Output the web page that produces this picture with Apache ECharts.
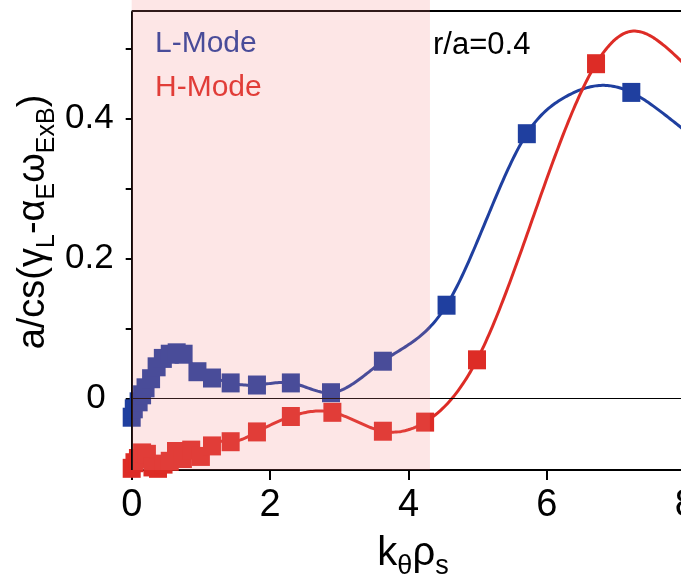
<!DOCTYPE html>
<html>
<head>
<meta charset="utf-8">
<script src="https://cdn.jsdelivr.net/npm/echarts@6/dist/echarts.min.js"></script>
<style>
  html, body { margin: 0; padding: 0; background: #ffffff; }
  #chart { width: 681px; height: 581px; }
</style>
</head>
<body>
<div id="chart"></div>
<script>
// Linear growth rate minus ExB shearing rate versus k_theta rho_s at r/a = 0.4

// L-Mode growth rates (marked points)
const kL = [0, 0.03, 0.1, 0.15, 0.2, 0.28, 0.36, 0.45, 0.55, 0.65, 0.75, 0.95, 1.16, 1.43, 1.81, 2.30, 2.88, 3.63, 4.55, 5.71, 7.22];
const gL = [-0.027, -0.015, -0.005, 0.005, 0.015, 0.028, 0.045, 0.057, 0.063, 0.065, 0.063, 0.038, 0.029, 0.022, 0.019, 0.022, 0.008, 0.053, 0.133, 0.378, 0.437];
// L-Mode fitted curve between the marked points
const kLfit = [6.24, 6.85, 7.68, 8.1];
const gLfit = [0.429, 0.447, 0.407, 0.374];

// H-Mode growth rates (marked points)
const kH = [0, 0.04, 0.09, 0.15, 0.22, 0.3, 0.38, 0.46, 0.55, 0.64, 0.74, 0.86, 1.0, 1.16, 1.43, 1.81, 2.30, 2.90, 3.63, 4.24, 4.99, 6.71];
const gH = [-0.100, -0.092, -0.086, -0.078, -0.080, -0.098, -0.100, -0.094, -0.090, -0.076, -0.086, -0.074, -0.083, -0.068, -0.062, -0.048, -0.026, -0.020, -0.047, -0.034, 0.055, 0.478];
// H-Mode fitted curve between the marked points
const kHfit = [7.2, 7.68, 8.1];
const gHfit = [0.524, 0.505, 0.466];

// shaded low-k band
const shadedK = [0, 4.31];

// axis ticks and labels
const xTicks = [0, 2, 4, 6, 8];
const yTicks = [0, 0.1, 0.2, 0.3, 0.4, 0.5];
const yLabels = [0, 0.2, 0.4];

// axis ranges
const X_MIN = 0, X_MAX = 8.4;
const Y_MIN = -0.1024, Y_MAX = 0.569, Y_FRAME = 0.553;

const BLUE = '#1f3f9f';
const RED = '#dd2c26';
const FONT = '"Liberation Sans", Arial, Helvetica, sans-serif';

// merge marked points and curve points, ordered by k
function knots(ks, gs, kf, gf) {
  return ks.map((k, i) => [k, gs[i]])
    .concat(kf.map((k, i) => [k, gf[i]]))
    .sort((p, q) => p[0] - q[0]);
}

// natural cubic spline through the knots, sampled for drawing
function splinePoints(pts) {
  const xs = pts.map(p => p[0]), ys = pts.map(p => p[1]);
  const n = xs.length;
  const h = [];
  for (let i = 0; i < n - 1; i++) h.push(xs[i + 1] - xs[i]);
  const a = [], b = [], c = [], d = [];
  for (let i = 1; i < n - 1; i++) {
    a.push(h[i - 1]);
    b.push(2 * (h[i - 1] + h[i]));
    c.push(h[i]);
    d.push(6 * ((ys[i + 1] - ys[i]) / h[i] - (ys[i] - ys[i - 1]) / h[i - 1]));
  }
  const k = b.length;
  for (let i = 1; i < k; i++) {
    const w = a[i] / b[i - 1];
    b[i] -= w * c[i - 1];
    d[i] -= w * d[i - 1];
  }
  const m = new Array(n).fill(0);
  for (let i = k - 1; i >= 0; i--) {
    m[i + 1] = (d[i] - (i < k - 1 ? c[i] * m[i + 2] : 0)) / b[i];
  }
  const out = [];
  for (let i = 0; i < n - 1; i++) {
    const steps = Math.max(4, Math.ceil(h[i] * 40));
    for (let s = 0; s < steps; s++) {
      const t = (s / steps) * h[i];
      const A = (h[i] - t) / h[i], B = t / h[i];
      const y = A * ys[i] + B * ys[i + 1] +
        ((A * A * A - A) * m[i] + (B * B * B - B) * m[i + 1]) * h[i] * h[i] / 6;
      out.push([xs[i] + t, y]);
    }
  }
  out.push([xs[n - 1], ys[n - 1]]);
  return out;
}

function curveSeries(name, pts, color, z) {
  const curve = splinePoints(pts);
  return {
    type: 'custom',
    name: name + ' fit',
    z: z,
    silent: true,
    clip: false,
    data: pts,
    renderItem(params, api) {
      if (params.dataIndex !== 0) return null;
      return {
        type: 'polyline',
        shape: { points: curve.map(p => api.coord(p)) },
        style: { stroke: color, lineWidth: 3, fill: 'none', lineJoin: 'round', lineCap: 'round' }
      };
    }
  };
}

function markerSeries(name, ks, gs, color, z, extra) {
  return Object.assign({
    type: 'scatter',
    name: name,
    z: z,
    silent: true,
    clip: false,
    symbol: 'rect',
    symbolSize: [18, 19],
    itemStyle: { color: color, opacity: 1 },
    data: ks.map((kk, i) => [kk, gs[i]])
  }, extra || {});
}

const frameLines = {
  silent: true,
  symbol: 'none',
  label: { show: false },
  emphasis: { disabled: true },
  data: [
    [{ coord: [X_MIN, Y_FRAME], lineStyle: { color: '#000', width: 2, type: 'solid' } },
     { coord: [X_MAX, Y_FRAME] }],
    [{ coord: [X_MIN, Y_MIN], lineStyle: { color: '#000', width: 2, type: 'solid' } },
     { coord: [X_MIN, Y_FRAME] }],
    [{ coord: [X_MIN, 0], lineStyle: { color: '#000', width: 1.2, type: 'solid' } },
     { coord: [X_MAX, 0] }]
  ]
};

const chart = echarts.init(document.getElementById('chart'), null, { renderer: 'canvas' });

chart.setOption({
  animation: false,
  backgroundColor: '#ffffff',
  textStyle: { fontFamily: FONT },
  grid: { left: 131.7, right: 681 - (131.7 + X_MAX * 69.2), top: 0, bottom: 111, outerBoundsMode: 'none', containLabel: false },
  xAxis: {
    type: 'value',
    min: X_MIN,
    max: X_MAX,
    splitLine: { show: false },
    axisLine: { show: true, onZero: false, lineStyle: { color: '#000', width: 2 } },
    axisTick: { show: true, customValues: xTicks, length: 10, lineStyle: { color: '#000', width: 2 } },
    axisLabel: { customValues: xTicks, color: '#000', fontSize: 38, fontFamily: FONT, margin: 17 }
  },
  yAxis: {
    type: 'value',
    min: Y_MIN,
    max: Y_MAX,
    splitLine: { show: false },
    axisLine: { show: false, onZero: false },
    axisTick: { show: true, customValues: yTicks, length: 6, lineStyle: { color: '#000', width: 2 } },
    axisLabel: {
      customValues: yLabels, color: '#000', fontSize: 35, fontFamily: FONT, margin: 18,
      formatter: v => (Math.abs(v) < 1e-9 ? '{z|0}' : v.toFixed(1)),
      rich: { z: { fontSize: 35, fontFamily: FONT, color: '#000', padding: [0, 8, 0, 0] } }
    }
  },
  graphic: [
    { type: 'text', x: 155, y: 44, style: { text: 'L-Mode', fill: BLUE, font: '30px ' + FONT, align: 'left', verticalAlign: 'middle' } },
    { type: 'text', x: 155, y: 88, style: { text: 'H-Mode', fill: RED, font: '30px ' + FONT, align: 'left', verticalAlign: 'middle' } },
    { type: 'text', x: 433, y: 45, style: { text: 'r/a=0.4', fill: '#000', font: '31px ' + FONT, align: 'left', verticalAlign: 'middle' } },
    {
      type: 'text', x: 34, y: 222, rotation: Math.PI / 2,
      style: {
        text: '{m|a/cs(γ}{s|L}{m|-α}{s|E}{m|ω}{s|ExB}{m|)}',
        align: 'center', verticalAlign: 'middle', fill: '#000',
        rich: {
          m: { fontSize: 38, lineHeight: 52, fontFamily: FONT, fill: '#000' },
          s: { fontSize: 25, lineHeight: 26, verticalAlign: 'bottom', fontFamily: FONT, fill: '#000' }
        }
      }
    },
    {
      type: 'text', x: 413, y: 554,
      style: {
        text: '{m|k}{s|θ}{m|ρ}{s|s}',
        align: 'center', verticalAlign: 'middle', fill: '#000',
        rich: {
          m: { fontSize: 40, lineHeight: 52, fontFamily: FONT, fill: '#000' },
          s: { fontSize: 27, lineHeight: 27, verticalAlign: 'bottom', fontFamily: FONT, fill: '#000' }
        }
      }
    }
  ],
  series: [
    curveSeries('L-Mode', knots(kL, gL, kLfit, gLfit), BLUE, 2),
    curveSeries('H-Mode', knots(kH, gH, kHfit, gHfit), RED, 3),
    markerSeries('L-Mode', kL, gL, BLUE, 4, { markLine: frameLines }),
    markerSeries('H-Mode', kH, gH, RED, 4),
    {
      type: 'custom',
      name: 'shade',
      z: 20,
      silent: true,
      clip: false,
      data: [shadedK],
      renderItem(params, api) {
        const p0 = api.coord([api.value(0), Y_MAX]);
        const p1 = api.coord([api.value(1), Y_MIN]);
        return {
          type: 'rect',
          shape: { x: p0[0], y: p0[1], width: p1[0] - p0[0], height: p1[1] - p0[1] },
          style: { fill: 'rgba(245,130,130,0.2)' }
        };
      }
    }
  ]
});
</script>
</body>
</html>
